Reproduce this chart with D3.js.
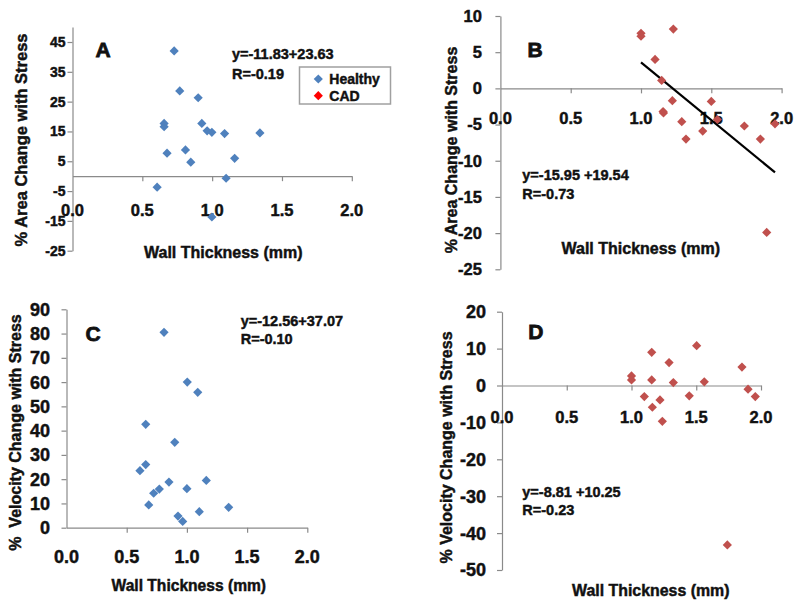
<!DOCTYPE html>
<html>
<head>
<meta charset="utf-8">
<script src="https://cdn.jsdelivr.net/npm/d3@7"></script>
<style>
  html, body { margin: 0; padding: 0; background: #ffffff; }
  svg { display: block; }
  text { font-family: "Liberation Sans", Arial, sans-serif; font-weight: bold; fill: #111; stroke: #111; stroke-width: 0.45px; }
</style>
</head>
<body>
<svg id="chart" width="800" height="606"></svg>
<script>
// ---------------- DATA ----------------
const xTickValues = [0, 0.5, 1.0, 1.5, 2.0];
const xTickLabels = ["0.0", "0.5", "1.0", "1.5", "2.0"];

const areaTicks = [-25, -15, -5, 5, 15, 25, 35, 45];
const areaCadTicks = [-25, -20, -15, -10, -5, 0, 5, 10];
const velTicks = [0, 10, 20, 30, 40, 50, 60, 70, 80, 90];
const velCadTicks = [-50, -40, -30, -20, -10, 0, 10, 20];

// Panel A: healthy, % area change
const areaHealthyThickness = [0.728, 0.768, 0.900, 0.656, 0.656, 0.926, 0.964, 0.998, 1.089, 1.342, 0.677, 0.809, 0.847, 1.161, 1.100, 0.606, 0.998];
const areaHealthyChange    = [42.0, 28.6, 26.3, 17.7, 16.6, 17.7, 15.2, 14.7, 14.3, 14.5, 7.7, 8.8, 4.7, 6.0, -0.7, -3.7, -13.7];

// Panel B: CAD, % area change
const areaCadThickness = [1.0, 1.0, 1.23, 1.10, 1.147, 1.223, 1.157, 1.160, 1.29, 1.32, 1.439, 1.50, 1.543, 1.735, 1.849, 1.953, 1.894];
const areaCadChange    = [7.6, 7.2, 8.2, 4.0, 1.1, -1.7, -3.2, -3.4, -4.6, -7.0, -5.9, -1.8, -4.3, -5.2, -7.0, -4.9, -19.9];
const areaCadTrend = { slope: -15.95, intercept: 19.54 };

// Panel C: healthy, % velocity change
const velHealthyThickness = [0.810, 1.003, 1.090, 0.658, 0.899, 0.658, 0.610, 0.724, 0.771, 0.851, 1.161, 1.000, 0.683, 1.103, 1.347, 0.926, 0.965];
const velHealthyChange    = [80.5, 60.0, 55.8, 42.6, 35.2, 26.0, 23.5, 14.2, 15.9, 18.8, 19.5, 16.1, 9.4, 6.6, 8.4, 4.8, 2.6];

// Panel D: CAD, % velocity change
const velCadThickness = [1.0, 1.0, 1.156, 1.29, 1.503, 1.156, 1.323, 1.562, 1.853, 1.90, 1.956, 1.099, 1.161, 1.22, 1.446, 1.238, 1.74];
const velCadChange    = [2.6, 1.5, 9.0, 6.2, 10.8, 1.5, 0.8, 1.0, 5.0, -1.0, -3.0, -3.0, -5.9, -3.9, -2.8, -9.7, -43.2];

const legendLabels = ["Healthy", "CAD"];

// ---------------- STYLE ----------------
const healthyColor = "#4F81BD";
const cadColor = "#C0504D";
const legendCadColor = "#FF0000";
const axisColor = "#8a8a8a";

const svg = d3.select("#chart");

function diamond(r) {
  return `M0,${-r}L${r},0L0,${r}L${-r},0Z`;
}

// ---------------- PANELS ----------------
const panels = [
  {
    letter: "A", letterPos: [103, 57.3], letterSize: 21,
    xRange: [72.5, 351.8], yDomain: [-25, 50], yRange: [250.7, 27.1],
    yTicks: areaTicks, yTickSize: 14, yLabelGap: 7, xTickSize: 16.5, xLabelOffset: 39.8,
    xs: areaHealthyThickness, ys: areaHealthyChange, color: healthyColor,
    yTitle: "% Area Change with Stress", yTitlePos: [20.7, 140], yTitleSize: 16.5,
    xTitlePos: [223.3, 257.5], xTitleSize: 16,
    eq: ["y=-11.83+23.63", "R=-0.19"], eqPos: [232, 58.5, 78.5]
  },
  {
    letter: "B", letterPos: [535, 57.3], letterSize: 21,
    xRange: [500.4, 781.6], yDomain: [-25, 10], yRange: [269.3, 16],
    yTicks: areaCadTicks, yTickSize: 16.5, yLabelGap: 18.5, xTickSize: 16.5, xLabelOffset: 35.6,
    xs: areaCadThickness, ys: areaCadChange, color: cadColor,
    trend: areaCadTrend,
    yTitle: "% Area Change with Stress", yTitlePos: [451.7, 150], yTitleSize: 16,
    xTitlePos: [640.8, 254], xTitleSize: 16,
    eq: ["y=-15.95 +19.54", "R=-0.73"], eqPos: [522.3, 180, 199.3]
  },
  {
    letter: "C", letterPos: [93, 340.7], letterSize: 21,
    xRange: [66.5, 307.3], yDomain: [0, 90], yRange: [527.7, 309.3],
    yTicks: velTicks, yTickSize: 18, yLabelGap: 16.5, xTickSize: 18, xLabelOffset: 35.6,
    xs: velHealthyThickness, ys: velHealthyChange, color: healthyColor,
    yTitle: "%  Velocity Change with Stress", yTitlePos: [15, 432.5], yTitleSize: 16,
    xTitlePos: [188.8, 591], xTitleSize: 15.6,
    eq: ["y=-12.56+37.07", "R=-0.10"], eqPos: [240.7, 326, 344]
  },
  {
    letter: "D", letterPos: [535.8, 339.3], letterSize: 21,
    xRange: [502, 761], yDomain: [-50, 20], yRange: [570, 311.7],
    yTicks: velCadTicks, yTickSize: 18, yLabelGap: 16, xTickSize: 16.5, xLabelOffset: 37.2,
    xs: velCadThickness, ys: velCadChange, color: cadColor,
    yTitle: "% Velocity Change with Stress", yTitlePos: [446.7, 447.5], yTitleSize: 16,
    xTitlePos: [650.8, 596], xTitleSize: 15.9,
    eq: ["y=-8.81 +10.25", "R=-0.23"], eqPos: [522.3, 496.7, 515]
  }
];

panels.forEach(p => {
  const g = svg.append("g");
  const x = d3.scaleLinear().domain([0, 2]).range(p.xRange);
  const y = d3.scaleLinear().domain(p.yDomain).range(p.yRange);
  const y0 = y(0);

  // Y axis (ticks outward left)
  const yAxis = d3.axisLeft(y).tickValues(p.yTicks).tickSize(5).tickSizeOuter(0).tickFormat("");
  const ya = g.append("g").attr("transform", `translate(${x(0)},0)`).call(yAxis);
  ya.select(".domain").attr("stroke", axisColor).attr("stroke-width", 1.2);
  ya.selectAll(".tick line").attr("stroke", axisColor).attr("stroke-width", 1.2);

  // Y tick labels
  g.selectAll(".ylab").data(p.yTicks).enter().append("text")
    .attr("x", x(0) - p.yLabelGap)
    .attr("y", d => y(d))
    .attr("dy", "0.36em")
    .attr("text-anchor", "end")
    .style("font-size", p.yTickSize + "px")
    .text(d => d);

  // X axis line at y = 0 (ticks downward)
  const xAxis = d3.axisBottom(x).tickValues(xTickValues.slice(1)).tickSize(5).tickSizeOuter(0).tickFormat("");
  const xa = g.append("g").attr("transform", `translate(0,${y0})`).call(xAxis);
  xa.select(".domain").attr("stroke", axisColor).attr("stroke-width", 1.2);
  xa.selectAll(".tick line").attr("stroke", axisColor).attr("stroke-width", 1.2);

  // X tick labels
  g.selectAll(".xlab").data(xTickValues).enter().append("text")
    .attr("x", d => x(d))
    .attr("y", y0 + p.xLabelOffset)
    .attr("text-anchor", "middle")
    .style("font-size", p.xTickSize + "px")
    .text((d, i) => xTickLabels[i]);

  // Trendline
  if (p.trend) {
    const xmin = d3.min(p.xs), xmax = d3.max(p.xs);
    g.append("line")
      .attr("x1", x(xmin)).attr("y1", y(p.trend.slope * xmin + p.trend.intercept))
      .attr("x2", x(xmax)).attr("y2", y(p.trend.slope * xmax + p.trend.intercept))
      .attr("stroke", "#000").attr("stroke-width", 2.2);
  }

  // Points
  g.selectAll(".pt").data(p.xs.map((v, i) => [v, p.ys[i]])).enter().append("path")
    .attr("d", diamond(4.6))
    .attr("transform", d => `translate(${x(d[0])},${y(d[1])})`)
    .attr("fill", p.color);

  // Panel letter
  g.append("text").attr("x", p.letterPos[0]).attr("y", p.letterPos[1])
    .attr("text-anchor", "middle").style("font-size", p.letterSize + "px")
    .style("stroke-width", "0.8px").text(p.letter);

  // Equation
  g.append("text").attr("x", p.eqPos[0]).attr("y", p.eqPos[1]).style("font-size", "14.5px").text(p.eq[0]);
  g.append("text").attr("x", p.eqPos[0]).attr("y", p.eqPos[2]).style("font-size", "14.5px").text(p.eq[1]);

  // Axis titles
  g.append("text")
    .attr("transform", `translate(${p.yTitlePos[0]},${p.yTitlePos[1]}) rotate(-90)`)
    .attr("text-anchor", "middle").attr("dy", "0.36em")
    .style("font-size", p.yTitleSize + "px").style("white-space", "pre")
    .text(p.yTitle);
  g.append("text").attr("x", p.xTitlePos[0]).attr("y", p.xTitlePos[1])
    .attr("text-anchor", "middle").style("font-size", p.xTitleSize + "px")
    .text("Wall Thickness (mm)");
});

// Legend (panel A)
const lg = svg.append("g");
lg.append("rect").attr("x", 299.5).attr("y", 67).attr("width", 91).attr("height", 37)
  .attr("fill", "#fff").attr("stroke", "#a0a0a0").attr("stroke-width", 1.5);
const legendColors = [healthyColor, legendCadColor];
const legendY = [79, 95.7];
legendLabels.forEach((lab, i) => {
  lg.append("path").attr("d", diamond(4.6))
    .attr("transform", `translate(318.3,${legendY[i]})`).attr("fill", legendColors[i]);
  lg.append("text").attr("x", 329.3).attr("y", legendY[i]).attr("dy", "0.36em")
    .style("font-size", "14px").text(lab);
});
</script>
</body>
</html>
